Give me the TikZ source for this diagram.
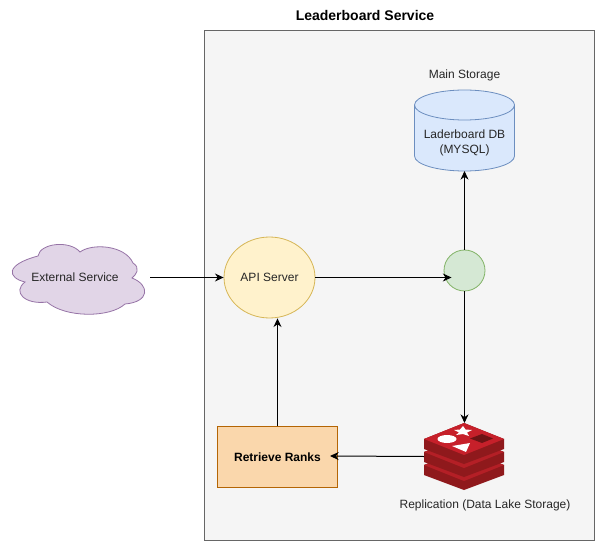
\documentclass[tikz,border=0pt]{standalone}
\usepackage{fontspec}
\setmainfont{Liberation Sans}
\usetikzlibrary{shapes.geometric,arrows.meta}
\definecolor{boxfill}{HTML}{F5F5F5}
\definecolor{boxline}{HTML}{666666}
\definecolor{cloudfill}{HTML}{E1D5E7}
\definecolor{cloudline}{HTML}{9673A6}
\definecolor{dbfill}{HTML}{DAE8FC}
\definecolor{dbline}{HTML}{6C8EBF}
\definecolor{apifill}{HTML}{FFF2CC}
\definecolor{apiline}{HTML}{D6B656}
\definecolor{hubfill}{HTML}{D5E8D4}
\definecolor{hubline}{HTML}{82B366}
\definecolor{rankfill}{HTML}{FAD7AC}
\definecolor{rankline}{HTML}{B46504}
\definecolor{redisdark}{HTML}{8F191C}
\definecolor{redismid}{HTML}{B41F26}
\definecolor{redistop}{HTML}{C6202A}
\definecolor{redisnotch}{HTML}{6E1315}
\tikzset{
  lbl/.style={font=\fontsize{9}{11}\selectfont,text=black!85,align=center},
  flow/.style={-{Stealth[length=6.5pt,width=6pt]},black,line width=0.75pt}
}
\begin{document}
\begin{tikzpicture}[x=0.75pt,y=-0.75pt,line width=0.6pt]
\useasboundingbox (0,0) rectangle (595,541);
\draw[boxline,fill=boxfill] (204.5,30) rectangle (594,540);
\node[font=\fontsize{10.5}{12}\selectfont\bfseries] (title) at (365,16) {Leaderboard Service};
% cloud
\draw[cloudline,fill=cloudfill] (38,256)
  .. controls (40,243) and (70,240) .. (80,252)
  .. controls (92,243) and (125,245) .. (133,263)
  .. controls (141,268) and (136,275) .. (132,278)
  .. controls (150,285) and (150,302) .. (125,304)
  .. controls (110,318) and (65,318) .. (47,302)
  .. controls (25,305) and (12,292) .. (25,282)
  .. controls (8,278) and (4,265) .. (38,256) -- cycle;
\node[lbl] (external) at (75,277) {External Service};
\coordinate (externalout) at (150,277.5);
% database
\draw[dbline,fill=dbfill] (414.5,105) arc[start angle=180,end angle=360,x radius=50,y radius=15]
  -- (514.5,156) arc[start angle=0,end angle=180,x radius=50,y radius=15] -- cycle;
\draw[dbline] (414.5,105) arc[start angle=180,end angle=0,x radius=50,y radius=15];
\node[lbl] (db) at (464.5,143) {Laderboard DB\\(MYSQL)};
\coordinate (dbin) at (464.5,171);
\node[lbl] (storage) at (464.5,75) {Main Storage};
\node[ellipse,draw=apiline,fill=apifill,minimum width=91*0.75pt,minimum height=81*0.75pt,inner sep=0pt,lbl] (api) at (269.5,277.5) {API Server};
\node[circle,draw=hubline,fill=hubfill,minimum size=41*0.75pt,inner sep=0pt] (hub) at (464.5,270.5) {};
\node[rectangle,draw=rankline,fill=rankfill,minimum width=120*0.75pt,minimum height=60.5*0.75pt,
  inner sep=0pt,font=\fontsize{9}{11}\selectfont\bfseries] (ranks) at (277.5,456.75) {Retrieve Ranks};
\coordinate (hubin) at (451.5,277.5);
\coordinate (ranksin) at (330,456);
% redis icon
\coordinate (redis) at (464.5,423);
\coordinate (redisleft) at (424,456.5);
\foreach \dy/\col in {26/redismid,13/redismid,0/redistop}{
  \fill[redisdark] (424,439+\dy) -- (424,449+\dy) -- (464,464+\dy) -- (504,449+\dy) -- (504,439+\dy) -- (464,423+\dy) -- cycle;
  \fill[\col] (424,439+\dy) -- (464,423+\dy) -- (504,439+\dy) -- (464,455+\dy) -- cycle;
}
\fill[white] (447,439) ellipse (9.5 and 4);
\fill[white] (452,446) -- (470,443) -- (466,452) -- cycle;
\fill[redisnotch] (470,438.5) -- (482,434) -- (493,438.5) -- (482,443) -- cycle;
\fill[white] (463,426) -- (465.5,429.5) -- (472,430) -- (467,432.5) -- (469,436) -- (463,434) -- (456,435) -- (459,432.5) -- (454,430) -- (460,429.5) -- cycle;
\node[lbl] (redislabel) at (485,505) {Replication (Data Lake Storage)};
% connectors
\draw[flow] (externalout) -- (api.west);
\draw[flow] (api.east) -- (hubin);
\draw[flow] (hub) -- (dbin);
\draw[flow] (hub) -- (redis);
\draw[flow] (redisleft) -- (ranksin);
\draw[flow] (ranks) -- (ranks |- api.south);
\end{tikzpicture}
\end{document}
